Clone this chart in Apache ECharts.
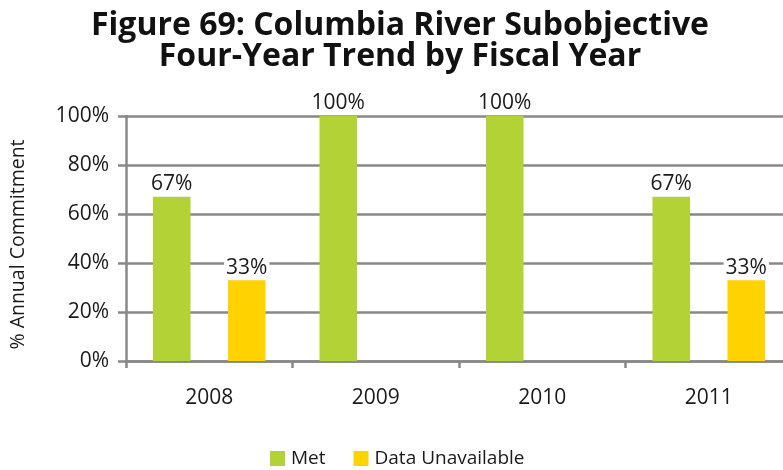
<!DOCTYPE html>
<html><head><meta charset="utf-8">
<script src="https://cdn.jsdelivr.net/npm/echarts@6/dist/echarts.min.js"></script>
<style>html,body{margin:0;padding:0;background:#fff;overflow:hidden;width:783px;height:470px}#c{width:800px;height:470px}</style>
</head><body><div id="c"></div>
<script>
const categories = ['2008', '2009', '2010', '2011'];
const metValues = [67, 100, 100, 67];
const unavailableValues = [33, null, null, 33];
const yTicks = [0, 20, 40, 60, 80, 100];

const chart = echarts.init(document.getElementById('c'), null, {renderer: 'canvas'});
const fontFam = '"Open Sans", "Noto Sans", sans-serif';
const labelStyle = {
  show: true, position: 'top', distance: 2,
  formatter: p => p.value + '%',
  fontFamily: fontFam, fontSize: 21, color: '#1a1a1a',
  backgroundColor: '#fff', padding: [0, 2, 0, 2]
};
chart.setOption({
  animation: false,
  title: {
    text: 'Figure 69: Columbia River Subobjective\nFour-Year Trend by Fiscal Year',
    left: 395, top: 5, textAlign: 'center',
    textStyle: {fontFamily: fontFam, fontWeight: 'bold', fontSize: 32, lineHeight: 31, color: '#111'}
  },
  legend: {
    data: ['Met', 'Data Unavailable'],
    left: 270, top: 449, padding: 0, itemWidth: 15, itemHeight: 15, itemGap: 28,
    icon: 'rect',
    textStyle: {fontFamily: fontFam, fontSize: 19, color: '#1a1a1a', padding: [0, 0, 0, 1]}
  },
  grid: {left: 124, top: 116, width: 668, height: 245, containLabel: false},
  xAxis: {
    type: 'category', data: categories,
    axisLine: {show: true, lineStyle: {color: '#888', width: 2.5}},
    axisTick: {show: true, length: 7, lineStyle: {color: '#888', width: 2.5}},
    axisLabel: {margin: 27, fontFamily: fontFam, fontSize: 21, color: '#1a1a1a'}
  },
  yAxis: {
    type: 'value', min: 0, max: 100, interval: 20,
    name: '% Annual Commitment', nameLocation: 'middle', nameGap: 98,
    nameTextStyle: {fontFamily: fontFam, fontSize: 19.5, color: '#1a1a1a', padding: [0, 12, 0, 0]},
    axisLine: {show: true, lineStyle: {color: '#888', width: 2.5}},
    axisTick: {show: true, inside: false, length: 8, lineStyle: {color: '#888', width: 2.5}},
    splitLine: {show: true, lineStyle: {color: '#888', width: 2.5}},
    axisLabel: {margin: 17, fontFamily: fontFam, fontSize: 21, color: '#1a1a1a',
      formatter: v => yTicks.includes(v) ? v + '%' : ''}
  },
  series: [
    {name: 'Met', type: 'bar', data: metValues, barWidth: 37.5, barGap: '100%',
     itemStyle: {color: '#B2D235'}, label: labelStyle},
    {name: 'Data Unavailable', type: 'bar', data: unavailableValues, barWidth: 37.5,
     itemStyle: {color: '#FFD200'}, label: labelStyle}
  ]
});
</script></body></html>
